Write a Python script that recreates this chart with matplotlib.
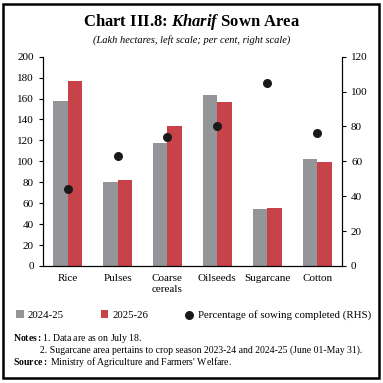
import matplotlib.pyplot as plt
import numpy as np
from matplotlib.patches import Rectangle

crops = ['Rice', 'Pulses', 'Coarse\ncereals', 'Oilseeds', 'Sugarcane', 'Cotton']
area_2425 = [157.5, 80, 118, 163, 54.5, 102]
area_2526 = [177, 82, 134, 157, 55, 99]
pct_done = [44, 63, 74, 80.5, 105, 76]
left_ticks = [0, 20, 40, 60, 80, 100, 120, 140, 160, 180, 200]
right_ticks = [0, 20, 40, 60, 80, 100, 120]

plt.rcParams['font.family'] = ['Liberation Serif', 'DejaVu Serif']
plt.rcParams['mathtext.fontset'] = 'custom'
plt.rcParams['mathtext.rm'] = 'Liberation Serif'
plt.rcParams['mathtext.it'] = 'Liberation Serif:italic'
plt.rcParams['mathtext.bf'] = 'Liberation Serif:bold'
plt.rcParams['mathtext.bfit'] = 'Liberation Serif:italic:bold'
gray = '#939598'
red = '#C8424A'

fig = plt.figure(figsize=(3.83, 3.83), dpi=100)
ax = fig.add_axes([0.1115, 0.3055, 0.7815, 0.5465])
x = np.arange(len(crops))
w = 0.29
ax.bar(x - w / 2, area_2425, width=w, color=gray, label='2024-25')
ax.bar(x + w / 2, area_2526, width=w, color=red, label='2025-26')
ax.set_ylim(0, 200)
ax.set_yticks(left_ticks)
ax.set_xlim(-0.5, len(crops) - 0.5)
ax.set_xticks(x)
ax.set_xticklabels(crops, fontsize=8)
ax.tick_params(axis='x', length=0, pad=6)
ax.tick_params(axis='y', labelsize=8, length=3, width=0.8)
ax.spines['top'].set_visible(False)

ax2 = ax.twinx()
ax2.scatter(x, pct_done, s=30, color='#1a1a1a', zorder=3,
            label='Percentage of sowing completed (RHS)')
ax2.set_ylim(0, 120)
ax2.set_yticks(right_ticks)
ax2.tick_params(axis='y', labelsize=8, length=3, width=0.8)
ax2.spines['top'].set_visible(False)

fig.text(0.5, 0.943, r'Chart III.8: $\mathbfit{Kharif}$ Sown Area', ha='center',
         va='center', fontsize=12, fontweight='bold')
fig.text(0.5, 0.895, '(Lakh hectares, left scale; per cent, right scale)',
         ha='center', va='center', fontsize=7.5, style='italic')

h1, l1 = ax.get_legend_handles_labels()
h2, l2 = ax2.get_legend_handles_labels()
fig.legend(h1 + h2, l1 + l2, loc='center', bbox_to_anchor=(0.505, 0.178), ncol=3,
           frameon=False, fontsize=7.8, handlelength=0.7, handleheight=0.7,
           handletextpad=0.4, columnspacing=3.4)

fig.text(0.035, 0.115, r'$\mathbf{Notes:}$1. Data are as on July 18.', fontsize=7, va='center')
fig.text(0.105, 0.085, '2. Sugarcane area pertains to crop season 2023-24 and 2024-25 (June 01-May 31).',
         fontsize=7, va='center')
fig.text(0.035, 0.056, r'$\mathbf{Source:}$ Ministry of Agriculture and Farmers' + "' Welfare.",
         fontsize=7, va='center')

fig.patches.append(Rectangle((0.008, 0.012), 0.982, 0.978, transform=fig.transFigure,
                             fill=False, edgecolor='black', linewidth=1.8))

fig.savefig('out.png', dpi=100)
